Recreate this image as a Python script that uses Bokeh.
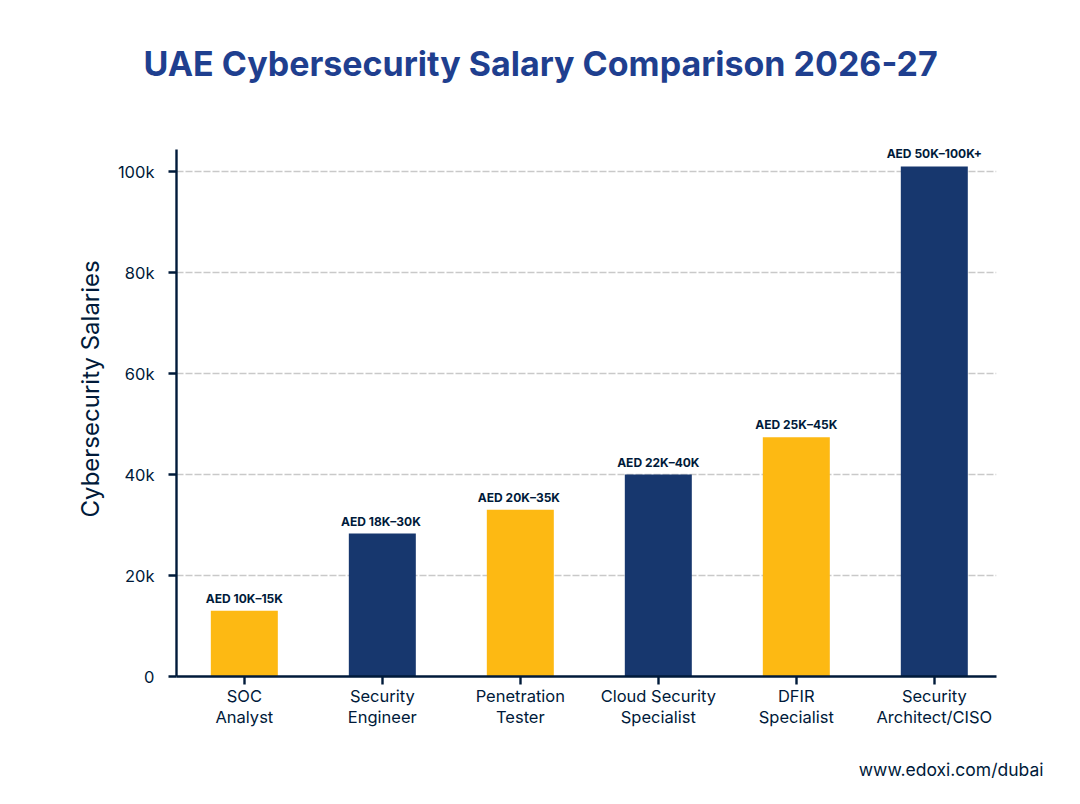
from bokeh.plotting import figure
from bokeh.core.properties import value
from bokeh.models import ColumnDataSource, LabelSet, Title, Range1d, FixedTicker
from bokeh.embed import file_html
from bokeh.resources import INLINE

title_text = "UAE Cybersecurity Salary Comparison 2026-27"
y_title = "Cybersecurity Salaries"
credit = "www.edoxi.com/dubai"
categories = ["SOC\nAnalyst", "Security\nEngineer", "Penetration\nTester",
              "Cloud Security\nSpecialist", "DFIR\nSpecialist", "Security\nArchitect/CISO"]
values = [13000, 28300, 33000, 40000, 47400, 101000]
value_labels = ["AED 10K–15K", "AED  18K–30K", "AED  20K–35K", "AED 22K–40K",
                "AED 25K–45K", "AED 50K–100K+"]
colors = ["#FDB913", "#17376E", "#FDB913", "#17376E", "#FDB913", "#17376E"]
y_ticks = [0, 20000, 40000, 60000, 80000, 100000]
y_tick_labels = ["0", "20k", "40k", "60k", "80k", "100k"]

FONT = "Inter"
INK = "#001A3A"
idx = list(range(len(categories)))
src = ColumnDataSource(dict(x=idx, top=values, color=colors, label=value_labels))

p = figure(width=1064, height=788, output_backend="svg", toolbar_location=None,
           x_range=Range1d(-0.4915, 5.4507), y_range=Range1d(0, 109307),
           min_border_left=176, min_border_right=68, min_border_top=124, min_border_bottom=112,
           border_fill_color="white", background_fill_color="white", outline_line_color=None)

p.vbar(x="x", top="top", bottom=0, width=0.4855, color="color", line_color=None, source=src)
p.add_layout(LabelSet(x="x", y="top", text="label", source=src, text_align="center",
                      text_baseline="bottom", y_offset=5, text_font=value(FONT), text_font_style="bold",
                      text_font_size="12px", text_color=INK))

p.xgrid.visible = False
p.ygrid.grid_line_color = "#C9C9C9"
p.ygrid.grid_line_dash = [7, 2]
p.ygrid.grid_line_width = 1.3
p.ygrid.ticker = FixedTicker(ticks=y_ticks)

p.xaxis.ticker = FixedTicker(ticks=idx)
p.xaxis.major_label_overrides = dict(zip(idx, categories))
p.yaxis.ticker = FixedTicker(ticks=y_ticks)
p.yaxis.major_label_overrides = dict(zip(y_ticks, y_tick_labels))
p.yaxis.bounds = (0, 104360)
for ax in (p.xaxis[0], p.yaxis[0]):
    ax.axis_line_color = INK
    ax.axis_line_width = 2.4
    ax.major_tick_line_color = INK
    ax.major_tick_line_width = 2.4
    ax.major_tick_out = 8
    ax.major_tick_in = 0
    ax.minor_tick_line_color = None
    ax.major_label_text_font = FONT
    ax.major_label_text_font_size = "16.5px"
    ax.major_label_text_color = INK
p.xaxis.major_label_orientation = "horizontal"
p.xaxis.major_label_standoff = 1
p.xaxis.major_label_text_line_height = 1.05
p.yaxis.major_label_standoff = 14

p.add_layout(Title(text=title_text, align="left", offset=-33, standoff=81, text_font=FONT,
                   text_font_style="bold", text_font_size="34px", text_color="#1F3F8F"), "above")
p.add_layout(Title(text=y_title, align="left", offset=159, standoff=20, text_font=FONT,
                   text_font_style="normal", text_font_size="24px", text_color=INK), "left")
p.add_layout(Title(text=" ", standoff=24, text_font_size="1px"), "below")
p.add_layout(Title(text=credit, align="right", offset=-47, standoff=0, text_font=FONT,
                   text_font_style="normal", text_font_size="17.5px", text_color=INK), "below")

open("out.html", "w").write(file_html(p, INLINE))
